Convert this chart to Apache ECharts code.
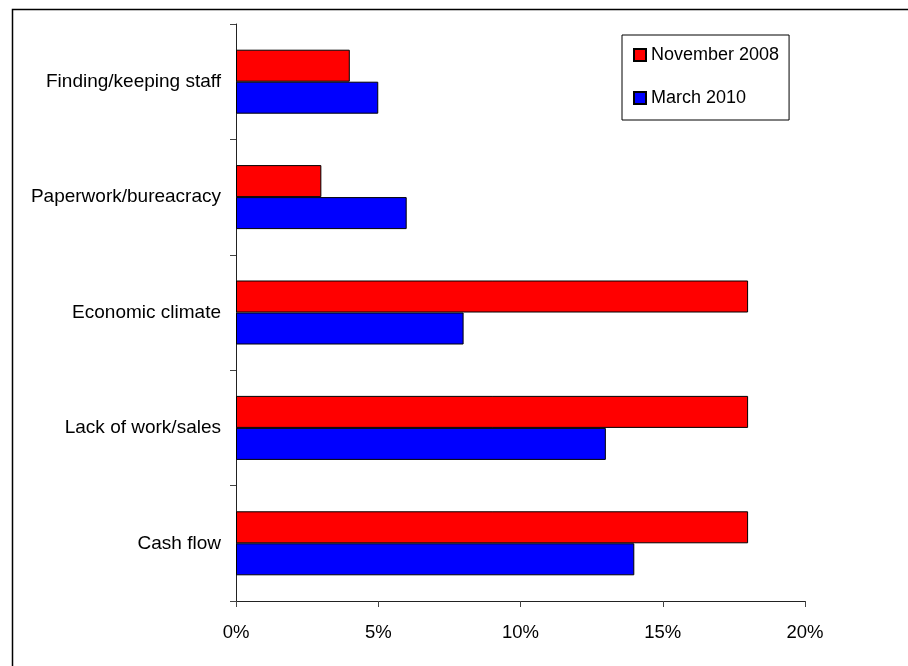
<!DOCTYPE html>
<html>
<head>
<meta charset="utf-8">
<script src="https://cdn.jsdelivr.net/npm/echarts@6/dist/echarts.min.js"></script>
<style>
  html, body { margin: 0; padding: 0; background: #fff; }
  #chart { width: 908px; height: 666px; }
</style>
</head>
<body>
<div id="chart"></div>
<script>
// categories bottom -> top (category axis on y)
var categories = ['Cash flow', 'Lack of work/sales', 'Economic climate', 'Paperwork/bureacracy', 'Finding/keeping staff'];
var nov2008 = [18, 18, 18, 3, 4];
var mar2010 = [14, 13, 8, 6, 5];
var xTicks = [0, 5, 10, 15, 20];

var fontFam = 'Liberation Sans, Arial, sans-serif';
var chart = echarts.init(document.getElementById('chart'));

var option = {
  animation: false,
  backgroundColor: '#fff',
  grid: { left: 236, top: 24, right: 103, bottom: 65 },
  legend: {
    data: ['November 2008', 'March 2010'],
    orient: 'vertical',
    left: 622,
    top: 35,
    padding: [11, 10, 13, 11],
    itemGap: 25,
    itemWidth: 12,
    itemHeight: 12,
    icon: 'rect',
    borderColor: '#000',
    borderWidth: 1,
    textStyle: { fontFamily: fontFam, fontSize: 18, color: '#000' }
  },
  xAxis: {
    type: 'value',
    min: xTicks[0],
    max: xTicks[xTicks.length - 1],
    interval: 5,
    splitLine: { show: false },
    axisLine: { show: true, lineStyle: { color: '#222', width: 1 } },
    axisTick: { show: true, length: 6, lineStyle: { color: '#444' } },
    axisLabel: {
      margin: 22,
      color: '#000',
      fontFamily: fontFam,
      fontSize: 18.5,
      formatter: '{value}%'
    }
  },
  yAxis: {
    type: 'category',
    data: categories,
    axisLine: { show: true, lineStyle: { color: '#222', width: 1 } },
    axisTick: { show: true, length: 6, lineStyle: { color: '#444' } },
    axisLabel: { margin: 15, color: '#000', fontFamily: fontFam, fontSize: 19 }
  },
  series: [
    {
      name: 'November 2008',
      type: 'bar',
      data: nov2008,
      barWidth: 32,
      barGap: '0%',
      itemStyle: { color: '#ff0000', borderColor: '#000', borderWidth: 1 }
    },
    {
      name: 'March 2010',
      type: 'bar',
      data: mar2010,
      barWidth: 32,
      barGap: '0%',
      itemStyle: { color: '#0000ff', borderColor: '#000', borderWidth: 1 }
    }
  ],
  graphic: [{
    type: 'rect',
    left: 10,
    top: 7,
    silent: true,
    shape: { width: 1000, height: 1000 },
    style: { fill: 'none', stroke: '#000', lineWidth: 1.5 }
  }]
};

chart.setOption(option);
</script>
</body>
</html>
